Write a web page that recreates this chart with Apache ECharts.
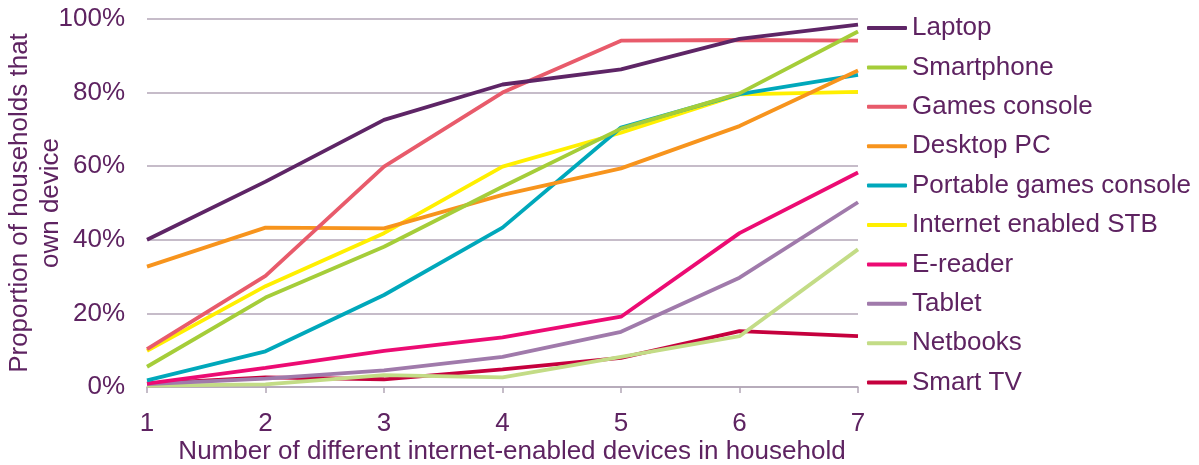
<!DOCTYPE html>
<html>
<head>
<meta charset="utf-8">
<script src="https://cdn.jsdelivr.net/npm/echarts@6/dist/echarts.min.js"></script>
<style>
html,body{margin:0;padding:0;background:#fff;}
#chart{width:1199px;height:465px;}
</style>
</head>
<body>
<div id="chart"></div>
<script>
var categories = ['1','2','3','4','5','6','7'];
var yTicks = [0, 20, 40, 60, 80, 100];
var seriesNames = ['Laptop','Smartphone','Games console','Desktop PC','Portable games console','Internet enabled STB','E-reader','Tablet','Netbooks','Smart TV'];
var seriesColors = ['#5e2566','#a5cd39','#e85b6b','#f7941d','#00a8bb','#ffef00','#ec0b73','#a07aab','#c3dc86','#c5003d'];
var laptop     = [40.0, 55.8, 72.6, 82.2, 86.3, 94.6, 98.5];
var smartphone = [5.5, 24.3, 38.1, 54.4, 70.2, 79.8, 96.6];
var games      = [10.3, 30.2, 59.9, 80.0, 94.1, 94.3, 94.1];
var desktop    = [32.7, 43.3, 43.1, 52.2, 59.4, 70.9, 86.0];
var portable   = [1.8, 9.7, 25.0, 43.3, 70.5, 79.6, 84.8];
var stb        = [9.8, 27.4, 41.8, 59.9, 69.1, 79.5, 80.2];
var ereader    = [0.9, 5.2, 9.8, 13.5, 19.1, 41.8, 58.3];
var tablet     = [0.8, 2.3, 4.5, 8.2, 15.0, 29.7, 50.2];
var netbooks   = [0.4, 0.7, 3.2, 2.6, 8.2, 13.8, 37.4];
var smarttv    = [0.9, 2.6, 2.1, 4.8, 7.9, 15.2, 13.8];
var seriesData = [laptop, smartphone, games, desktop, portable, stb, ereader, tablet, netbooks, smarttv];

var textColor = '#5e2361';
var gridColor = '#b3a6b7';
var font = 'Liberation Sans, Arial, sans-serif';

var chart = echarts.init(document.getElementById('chart'));
var series = seriesNames.map(function (n, i) {
  return {
    name: n,
    type: 'line',
    data: seriesData[i],
    symbol: 'none',
    lineStyle: { width: 3.8, color: seriesColors[i] },
    itemStyle: { color: seriesColors[i] },
    z: 10 - i
  };
});
chart.setOption({
  animation: false,
  backgroundColor: '#fff',
  textStyle: { fontFamily: font },
  grid: { left: 147, right: 341, top: 19, bottom: 78, containLabel: false, outerBoundsMode: 'none' },
  legend: {
    orient: 'vertical',
    left: 862,
    top: 10,
    icon: 'roundRect',
    itemWidth: 40,
    itemHeight: 4,
    itemGap: 13.4,
    textStyle: { color: textColor, fontSize: 26, fontFamily: font, lineHeight: 26 },
    data: seriesNames
  },
  xAxis: {
    type: 'category',
    data: categories,
    boundaryGap: false,
    axisLine: { lineStyle: { color: gridColor, width: 1.5 } },
    axisTick: { show: true, length: 6, lineStyle: { color: gridColor, width: 1.5 } },
    axisLabel: { color: textColor, fontSize: 26, fontFamily: font, margin: 24 },
    name: 'Number of different internet-enabled devices in household',
    nameLocation: 'middle',
    nameGap: 52,
    nameMoveOverlap: false,
    nameTextStyle: { color: textColor, fontSize: 26, fontFamily: font, padding: [0, 0, 0, 19] }
  },
  yAxis: {
    type: 'value',
    min: yTicks[0],
    max: yTicks[yTicks.length - 1],
    interval: 20,
    axisLine: { show: false },
    axisTick: { show: false },
    splitLine: { lineStyle: { color: gridColor, width: 1.5 } },
    axisLabel: { color: textColor, fontSize: 26, fontFamily: font, margin: 22, formatter: '{value}%' },
    name: 'Proportion of households that\nown device',
    nameLocation: 'middle',
    nameRotate: 90,
    nameGap: 81,
    nameMoveOverlap: false,
    nameTextStyle: { color: textColor, fontSize: 26, fontFamily: font, lineHeight: 31 }
  },
  series: series
});
</script>
</body>
</html>
